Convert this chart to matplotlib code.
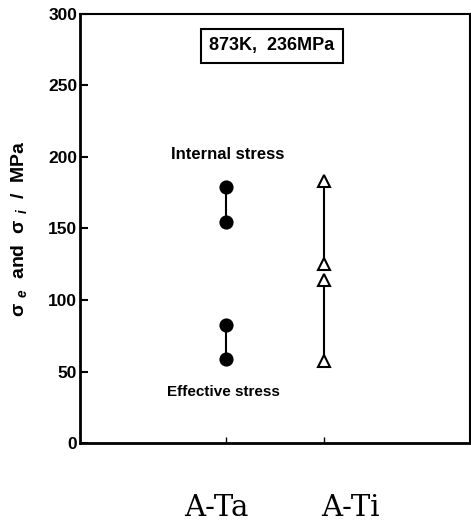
import matplotlib
matplotlib.use("Agg")
import matplotlib.pyplot as plt
from matplotlib.transforms import ScaledTranslation

categories = ["A-Ta", "A-Ti"]
internal_hi = [178.7, 183.0]
internal_lo = [154.2, 125.5]
effective_hi = [82.7, 114.0]
effective_lo = [58.9, 57.5]
markers = ["o", "^"]
yticks = [0, 50, 100, 150, 200, 250, 300]
label_shift_px = [-10, 27]

plt.rcParams["font.family"] = ["Liberation Sans", "DejaVu Sans"]
plt.rcParams["mathtext.fontset"] = "custom"
plt.rcParams["mathtext.rm"] = "Liberation Sans:bold"
plt.rcParams["mathtext.it"] = "Liberation Sans:bold:italic"
plt.rcParams["mathtext.bf"] = "Liberation Sans:bold"

fig = plt.figure(figsize=(4.71, 5.22), dpi=100)
ax = fig.add_axes([0.1699, 0.1513, 0.828, 0.822])

xs = list(range(1, len(categories) + 1))
for x, m, ih, il, eh, el in zip(xs, markers, internal_hi, internal_lo, effective_hi, effective_lo):
    filled = m == "o"
    for pair in ([ih, il], [eh, el]):
        ax.plot([x, x], pair, color="black", lw=1.5, zorder=2)
        ax.plot([x, x], pair, linestyle="none", marker=m, markersize=8.7,
                markerfacecolor="black" if filled else "white",
                markeredgecolor="black", markeredgewidth=1.5, zorder=3)

ax.set_xlim(-0.5, 3.5)
ax.set_ylim(0, 300)
ax.set_yticks(yticks)
ax.set_yticklabels([str(v) for v in yticks], fontsize=12.5, fontweight="bold")
ax.set_xticks(xs)
ax.set_xticklabels(categories, fontsize=21, family="DejaVu Serif")
ax.tick_params(axis="y", direction="in", length=6, width=1.5, pad=2)
ax.tick_params(axis="x", direction="in", length=4, width=1.0, pad=37)
for lab, dx in zip(ax.get_xticklabels(), label_shift_px):
    lab.set_transform(lab.get_transform() + ScaledTranslation(dx / 100, 0, fig.dpi_scale_trans))

for s in ax.spines.values():
    s.set_linewidth(1.5)
ax.spines["left"].set_linewidth(2)
ax.spines["bottom"].set_linewidth(2)

ax.set_ylabel(r"$\mathrm{\sigma}\ _{e}$  and  $\mathrm{\sigma}\ _{i}$  /  MPa", fontsize=14, fontweight="bold")
ax.yaxis.set_label_coords(-0.132, 0.5)

ax.text(1.01, 202, "Internal stress", fontsize=12, fontweight="bold", ha="center", va="center")
ax.text(0.967, 36, "Effective stress", fontsize=11, fontweight="bold", ha="center", va="center")
ax.text(1.467, 277.6, "873K,  236MPa", fontsize=13, fontweight="bold", ha="center", va="center",
        bbox=dict(boxstyle="square,pad=0.45", facecolor="white", edgecolor="black", linewidth=1.5))

fig.savefig("out.png", dpi=100)
